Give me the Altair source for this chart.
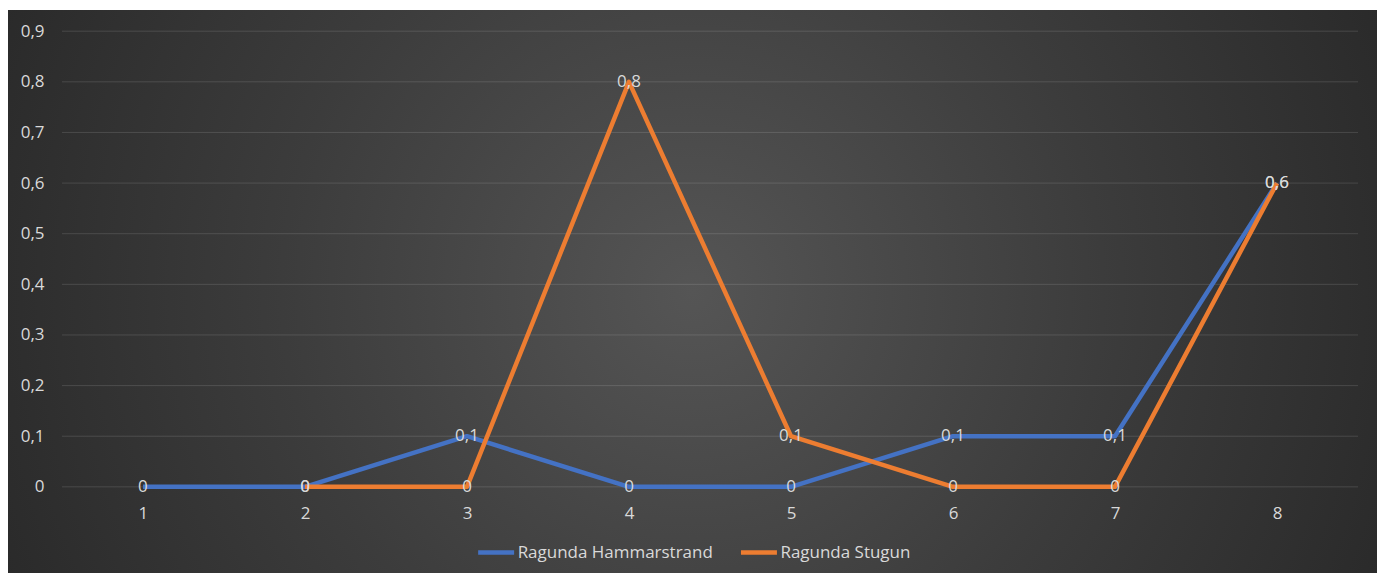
import altair as alt
import pandas as pd

categories = [1, 2, 3, 4, 5, 6, 7, 8]
series_names = ["Ragunda Hammarstrand", "Ragunda Stugun"]
hammarstrand = [0, 0, 0.1, 0, 0, 0.1, 0.1, 0.6]
stugun = [None, 0, 0, 0.8, 0.1, 0, 0, 0.6]
y_ticks = [0, 0.1, 0.2, 0.3, 0.4, 0.5, 0.6, 0.7, 0.8, 0.9]

rows = []
for name, vals in zip(series_names, [hammarstrand, stugun]):
    for c, v in zip(categories, vals):
        rows.append({"cat": str(c), "series": name, "value": v})
df = pd.DataFrame(rows)
grid_df = pd.DataFrame({"tick": y_ticks})

W, H = 1297, 456
PL, PT, PR, PB = 54, 23, 19, 86

FONT = "Open Sans"
TXT = "#d9d9d9"
FS = 17

xenc = alt.X("cat:O", sort=[str(c) for c in categories], title=None,
             axis=alt.Axis(labelAngle=0, ticks=False, domain=False, grid=False,
                           labelPadding=19, labelFontSize=FS, labelColor=TXT,
                           labelFont=FONT, zindex=1))
yscale = alt.Scale(domain=[0, 0.9], nice=False)
yenc = alt.Y("value:Q", scale=yscale, title=None,
             axis=alt.Axis(values=y_ticks, ticks=False, domain=False, grid=False,
                           labelPadding=18, labelFontSize=FS, labelColor=TXT,
                           labelFont=FONT, zindex=1,
                           labelExpr="datum.value == 0 ? '0' : replace(format(datum.value, '.1f'), '.', ',')"))

bg = alt.Chart(grid_df).mark_rect(
    fill=alt.RadialGradient(
        gradient="radial", x1=0.5, y1=0.5, r1=0, x2=0.5, y2=0.5, r2=0.6,
        stops=[alt.GradientStop(color="#555555", offset=0),
               alt.GradientStop(color="#3c3c3c", offset=0.5),
               alt.GradientStop(color="#262626", offset=1)]),
    stroke=None
).encode(
    x=alt.value(-PL), x2=alt.value(W + PR), y=alt.value(-PT + 2), y2=alt.value(H + PB)
)

grid = alt.Chart(grid_df).mark_rule(color="#ffffff", opacity=0.13, strokeWidth=1).encode(
    y=alt.Y("tick:Q", scale=yscale),
    x=alt.value(0), x2=alt.value(W)
)

color = alt.Color("series:N", sort=series_names, title=None,
                  scale=alt.Scale(domain=series_names, range=["#4472C4", "#ED7D31"]),
                  legend=alt.Legend(orient="none", direction="horizontal",
                                    legendX=414, legendY=501,
                                    symbolType="stroke", symbolSize=1296,
                                    symbolStrokeWidth=4.5, labelFontSize=FS,
                                    labelColor=TXT, labelFont=FONT, labelOffset=1,
                                    labelLimit=0, columnPadding=18, zindex=1, padding=0))

lines = alt.Chart(df).mark_line(strokeWidth=4.5, strokeCap="butt", strokeJoin="round").encode(
    x=xenc, y=yenc, color=color
)

labels = alt.Chart(df).transform_filter("isValid(datum.value)").transform_calculate(
    lbl="datum.value == 0 ? '0' : replace(format(datum.value, '.1f'), '.', ',')"
).mark_text(fontSize=FS, font=FONT, color=TXT, align="center", baseline="middle").encode(
    x=alt.X("cat:O", sort=[str(c) for c in categories]),
    y=alt.Y("value:Q", scale=yscale),
    text="lbl:N"
)

chart = alt.layer(bg, grid, lines, labels).properties(
    width=W, height=H,
    autosize=alt.AutoSizeParams(type="none"),
    padding={"left": PL, "top": PT, "right": PR, "bottom": PB},
    background="white"
).configure_view(stroke=None)

chart.save("out.html", embed_options={"renderer": "svg", "actions": False})
